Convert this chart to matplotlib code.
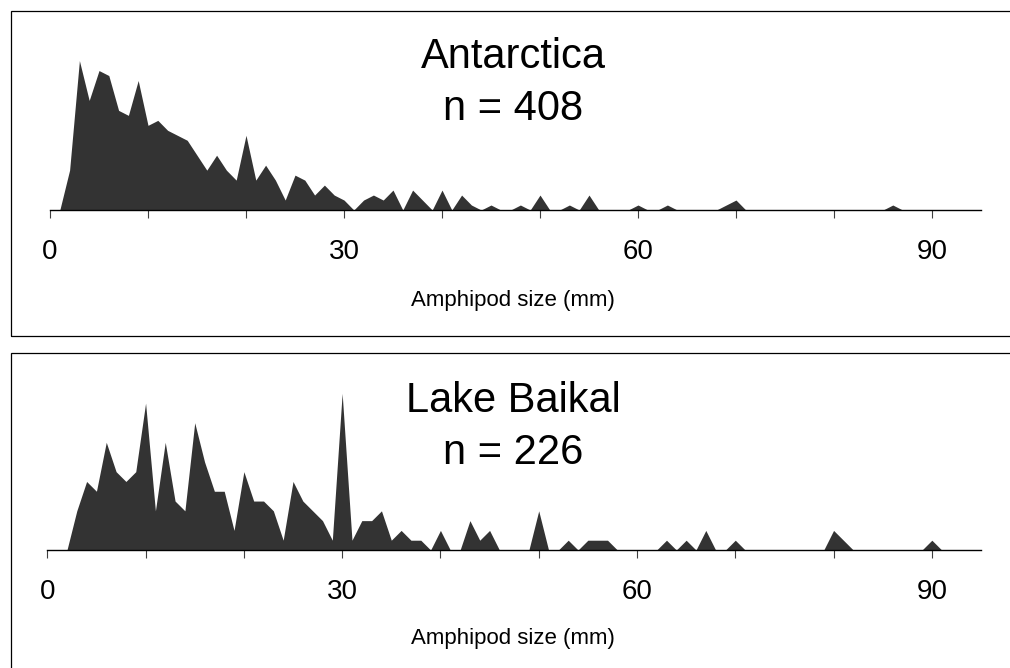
import matplotlib
matplotlib.use("Agg")
import matplotlib.pyplot as plt
from matplotlib.patches import Rectangle

plt.rcParams['font.family'] = ['Liberation Sans', 'DejaVu Sans']

# ---- data: amphipod size (mm) vs number of individuals ----
sizes = list(range(0, 96))

antarctica_counts = [
    0, 0, 8, 30, 22, 28, 27, 20, 19, 26,      # 0-9
    17, 18, 16, 15, 14, 11, 8, 11, 8, 6,      # 10-19
    15, 6, 9, 6, 2, 7, 6, 3, 5, 3,            # 20-29
    2, 0, 2, 3, 2, 4, 0, 4, 2, 0,             # 30-39
    4, 0, 3, 1, 0, 1, 0, 0, 1, 0,             # 40-49
    3, 0, 0, 1, 0, 3, 0, 0, 0, 0,             # 50-59
    1, 0, 0, 1, 0, 0, 0, 0, 0, 1,             # 60-69
    2, 0, 0, 0, 0, 0, 0, 0, 0, 0,             # 70-79
    0, 0, 0, 0, 0, 0, 1, 0, 0, 0,             # 80-89
    0, 0, 0, 0, 0, 0,                         # 90-95
]

baikal_counts = [
    0, 0, 0, 4, 7, 6, 11, 8, 7, 8,            # 0-9
    15, 4, 11, 5, 4, 13, 9, 6, 6, 2,          # 10-19
    8, 5, 5, 4, 1, 7, 5, 4, 3, 1,             # 20-29
    16, 1, 3, 3, 4, 1, 2, 1, 1, 0,            # 30-39
    2, 0, 0, 3, 1, 2, 0, 0, 0, 0,             # 40-49
    4, 0, 0, 1, 0, 1, 1, 1, 0, 0,             # 50-59
    0, 0, 0, 1, 0, 1, 0, 2, 0, 0,             # 60-69
    1, 0, 0, 0, 0, 0, 0, 0, 0, 0,             # 70-79
    2, 1, 0, 0, 0, 0, 0, 0, 0, 0,             # 80-89
    1, 0, 0, 0, 0, 0,                         # 90-95
]

titles = ["Antarctica", "Lake Baikal"]
sample_sizes = [408, 226]
xlabel = "Amphipod size (mm)"
tick_positions = list(range(0, 91, 10))
labelled_ticks = [0, 30, 60, 90]

# ---- figure ----
W, H = 1010, 668
fig = plt.figure(figsize=(W / 100, H / 100), dpi=100)


def fx(x):
    return x / W


def fy(y):
    return 1 - y / H


def add_panel(counts, left, base_y, ymax, frame_top, frame_bottom,
              title, n, title_base, label_y):
    # frame
    fig.add_artist(Rectangle((fx(10.5), fy(frame_bottom)), fx(1100), frame_bottom / H - frame_top / H,
                             transform=fig.transFigure, fill=False,
                             edgecolor='black', linewidth=0.9))
    height_px = 180
    ax = fig.add_axes([fx(left), fy(base_y), fx(981 - left), height_px / H])
    ax.fill_between(sizes, counts, 0, color='#333333', linewidth=0)
    ax.set_xlim(0, 95)
    ax.set_ylim(0, ymax)
    for s in ['top', 'right', 'left']:
        ax.spines[s].set_visible(False)
    ax.spines['bottom'].set_linewidth(1.0)
    ax.spines['bottom'].set_color('black')
    ax.set_yticks([])
    ax.set_xticks(tick_positions)
    ax.set_xticklabels([str(t) if t in labelled_ticks else '' for t in tick_positions])
    ax.tick_params(axis='x', direction='out', length=5.8, width=0.8,
                   color='#404040', labelsize=20, pad=15)
    ax.patch.set_alpha(0)
    cx = 513
    fig.text(fx(cx), fy(title_base), title, fontsize=30, ha='center', va='baseline')
    fig.text(fx(cx), fy(title_base + 52), f"n = {n}", fontsize=30, ha='center', va='baseline')
    fig.text(fx(cx), fy(label_y), xlabel, fontsize=16, ha='center', va='baseline')
    return ax


add_panel(antarctica_counts, 50, 210, 180 / 4.98, 10.5, 336,
          titles[0], sample_sizes[0], 68, 306)
add_panel(baikal_counts, 47.3, 550, 180 / 9.79, 352.5, 700,
          titles[1], sample_sizes[1], 412, 644)

fig.savefig("out.png", dpi=100)
